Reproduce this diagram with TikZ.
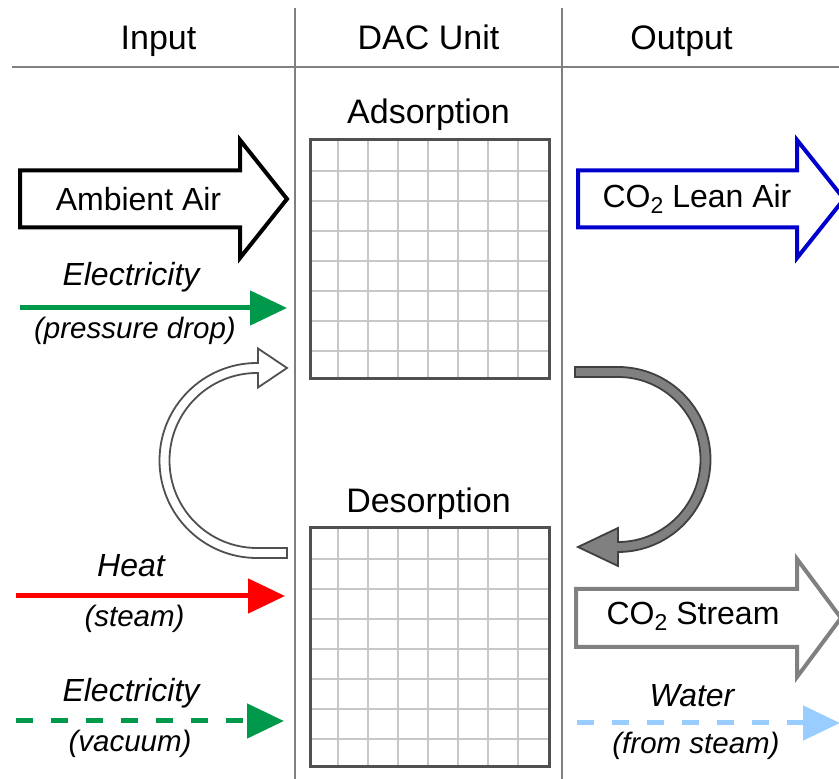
\documentclass[tikz,border=0pt]{standalone}
\usepackage{fontspec}
\setmainfont{Liberation Sans}
\usetikzlibrary{arrows.meta}
\definecolor{elecgreen}{RGB}{0,153,76}
\definecolor{heatred}{RGB}{255,0,0}
\definecolor{leanblue}{RGB}{0,0,204}
\definecolor{waterblue}{RGB}{153,204,255}
\definecolor{sepgray}{RGB}{128,128,128}
\definecolor{gridgray}{RGB}{200,200,200}
\definecolor{boxgray}{RGB}{80,80,80}
\newcommand{\cotwo}{CO\raisebox{-0.35ex}{\fontsize{23}{23}\selectfont 2}}
\tikzset{
  hdr/.style={font=\fontsize{34}{40}\selectfont, anchor=base, inner sep=0pt},
  blk/.style={font=\fontsize{32}{38}\selectfont, anchor=base, inner sep=0pt},
  lbl/.style={font=\fontsize{32}{38}\selectfont\itshape, anchor=base, inner sep=0pt},
  sublbl/.style={font=\fontsize{29.5}{34}\selectfont\itshape, anchor=base, inner sep=0pt},
  sepline/.style={draw=sepgray, line width=2.5pt},
  gridbox/.style={draw=boxgray, line width=3pt, minimum size=239pt, inner sep=0pt},
  gridline/.style={draw=gridgray, line width=2.2pt},
  linearrow/.style={line width=5pt, -{Triangle[length=37pt,width=34pt]}},
  blockarrow/.style={line width=4pt, line join=miter, fill=white},
}
\begin{document}
\begin{tikzpicture}[x=1pt,y=1pt]
\useasboundingbox (0,0) rectangle (839,779);
\clip (0,0) rectangle (839,779);

% separators
\coordinate (hl) at (12,712);
\coordinate (hr) at (839,712);
\coordinate (v1t) at (295,771);
\coordinate (v1b) at (295,0);
\coordinate (v2t) at (562,771);
\coordinate (v2b) at (562,0);
\draw[sepline] (hl) -- (hr);
\draw[sepline] (v1t) -- (v1b);
\draw[sepline] (v2t) -- (v2b);

% headers
\node[hdr] (hin) at (158.5,729) {Input};
\node[hdr] (hdac) at (428.5,729) {DAC Unit};
\node[hdr] (hout) at (681.5,729) {Output};

% titles
\node[hdr] (tads) at (428.5,655) {Adsorption};
\node[hdr] (tdes) at (428.5,266) {Desorption};

% grids
\node[gridbox] (ads) at (429.5,519.5) {};
\node[gridbox] (des) at (429.5,131.5) {};
\foreach \g in {ads,des}{
  \begin{scope}[shift={(\g.south west)}]
    \foreach \i in {1,...,7}{
      \draw[gridline] (\i*29.875,0) -- (\i*29.875,239);
      \draw[gridline] (0,\i*29.875) -- (239,\i*29.875);
    }
  \end{scope}
  \node[gridbox] at (\g) {};
}

% block arrows
\draw[blockarrow, draw=black] (20,551.5) -- (240,551.5) -- (240,521) -- (287,580) -- (240,639) -- (240,608.5) -- (20,608.5) -- cycle;
\node[blk] (amb) at (138.5,568) {Ambient Air};

\draw[blockarrow, draw=leanblue] (578,551.5) -- (797,551.5) -- (797,521) -- (844,580) -- (797,639) -- (797,608.5) -- (578,608.5) -- cycle;
\node[blk] (lean) at (697,571) {\cotwo{} Lean Air};

\draw[blockarrow, draw=sepgray] (576,132) -- (797,132) -- (797,102) -- (841,161) -- (797,220) -- (797,190) -- (576,190) -- cycle;
\node[blk] (stream) at (693,154) {\cotwo{} Stream};

% cycle arrows
\draw[fill=white, draw=boxgray, line width=1.8pt, line join=miter]
  (287,221) -- (257,221) arc[start angle=270, end angle=90, radius=97.5]
  -- (258,416) -- (258,430.5) -- (287,411) -- (258,391.5) -- (258,406) -- (257,406)
  arc[start angle=90, end angle=270, radius=87.5] -- (287,231) -- cycle;

\draw[fill=sepgray, draw=boxgray!80!black, line width=1.8pt, line join=miter]
  (575,412) -- (618,412) arc[start angle=90, end angle=-90, radius=92.5]
  -- (618,213) -- (578,232) -- (618,251) -- (618,237)
  arc[start angle=-90, end angle=90, radius=82.5] -- (575,402) -- cycle;

% line arrows
\coordinate (e1s) at (20,471);
\coordinate (e1t) at (287,471);
\draw[linearrow, elecgreen] (e1s) -- (e1t);
\node[lbl] (e1l) at (131,493) {Electricity};
\node[sublbl] (e1d) at (135,440) {(pressure drop)};

\coordinate (hs) at (16,183);
\coordinate (ht) at (285,183);
\draw[linearrow, heatred] (hs) -- (ht);
\node[lbl] (hl1) at (131,202) {Heat};
\node[sublbl] (hd) at (134.5,152) {(steam)};

\coordinate (e2s) at (16,58);
\coordinate (e2t) at (284,58);
\draw[linearrow, elecgreen, dash pattern=on 17pt off 18pt] (e2s) -- (e2t);
\node[lbl] (e2l) at (131,77) {Electricity};
\node[sublbl] (e2d) at (130,27) {(vacuum)};

\coordinate (ws) at (577,56);
\coordinate (wt) at (840,56);
\draw[linearrow, waterblue, dash pattern=on 17pt off 18pt] (ws) -- (wt);
\node[lbl] (wl) at (692,72) {Water};
\node[sublbl] (wd) at (696,25) {(from steam)};
\end{tikzpicture}
\end{document}
